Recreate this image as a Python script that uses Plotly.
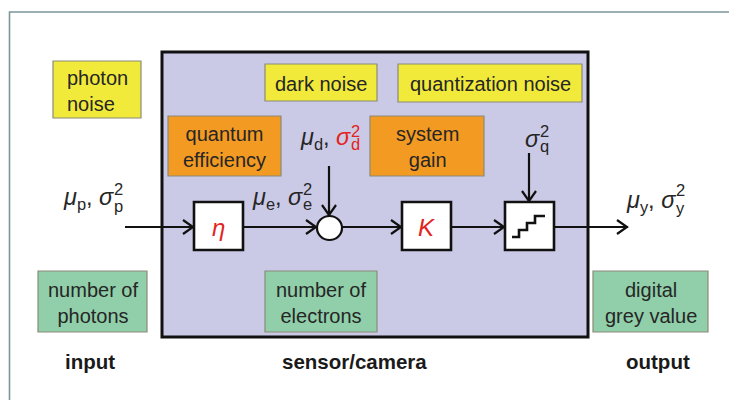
import plotly.graph_objects as go

# ---------------- data (texts) ----------------
box_texts = ["photon<br>noise", "dark noise", "quantization noise",
             "quantum<br>efficiency", "system<br>gain",
             "number of<br>photons", "number of<br>electrons", "digital<br>grey value"]
box_kinds = ["noise", "noise", "noise", "param", "param", "qty", "qty", "qty"]
box_align = ["left", "center", "center", "center", "center", "center", "center", "center"]
stage_labels = ["input", "sensor/camera", "output"]
block_symbols = ["η", "K", ""]
math_main = ["<i>μ</i><sub>p</sub>, <i>σ</i>", "<i>μ</i><sub>e</sub>, <i>σ</i>",
             "<i>μ</i><sub>d</sub>, <span style='color:#e3231d'><i>σ</i></span>",
             "<i>σ</i>", "<i>μ</i><sub>y</sub>, <i>σ</i>"]
math_sup = ["2", "2", "2", "2", "2"]
math_sub = ["p", "e", "d", "q", "y"]
math_red = [False, False, True, False, False]

# ---------------- layout geometry (pixels) ----------------
box_rects = [(53, 61, 141, 118), (265, 64, 377, 101), (398, 64, 582, 102),
             (168, 116, 281, 176), (370, 116, 484, 176),
             (38, 271, 147, 332), (265, 271, 377, 332), (593, 271, 708, 332)]
stage_x = [90, 354, 658]
stage_y = 361
block_rects = [(194, 202, 243, 250), (402, 202, 451, 250), (505, 202, 554, 250)]
circle = (317, 216, 342, 240)
main_y = 227
arrows = [((125, main_y), (194, main_y)), ((243, main_y), (317, main_y)),
          ((342, main_y), (402, main_y)), ((451, main_y), (505, main_y)),
          ((554, main_y), (628, main_y)),
          ((329, 166), (329, 216)), ((529, 153), (529, 202))]
math_stack_x = [113, 302, 350, 539, 675]
math_main_y = [198, 198, 138, 139, 201]
math_sup_y = [189, 189, 131, 131, 190]
math_sub_y = [206, 204, 144, 146, 208]
stair_x = [512, 519, 519, 527, 527, 535, 535, 545]
stair_y = [237, 237, 230, 230, 223, 223, 216, 216]

FILL = {"noise": "#f1ea3a", "param": "#f39a22", "qty": "#90cfa9"}
RED = "#e3231d"
TXT = "#262626"
FONT = "Liberation Sans, Arial, sans-serif"
OFF = 8  # page body margin

shapes = []
ann = []

# outer frame (left & top edge)
shapes.append(dict(type="path", path="M 9.5,420 L 9.5,12 L 760,12",
                   line=dict(color="#7d9698", width=1.6), layer="below"))
# sensor box
shapes.append(dict(type="rect", x0=162, y0=52, x1=588, y1=337,
                   fillcolor="#cbcae6", line=dict(color="#111", width=3), layer="below"))

for (x0, y0, x1, y1), txt, kind, al in zip(box_rects, box_texts, box_kinds, box_align):
    shapes.append(dict(type="rect", x0=x0, y0=y0, x1=x1, y1=y1, fillcolor=FILL[kind],
                       line=dict(color="#8a8a7a", width=1.2)))
    ann.append(dict(x=(x0 + x1) / 2, y=(y0 + y1) / 2 + 1, text=txt, showarrow=False,
                    align=al, xanchor="center", yanchor="middle",
                    font=dict(family=FONT, size=20, color=TXT)))

for x, t in zip(stage_x, stage_labels):
    ann.append(dict(x=x, y=stage_y, text="<b>" + t + "</b>", showarrow=False,
                    xanchor="center", yanchor="middle",
                    font=dict(family=FONT, size=20.5, color="#1a1a1a")))

# arrows
for (xa, ya), (xb, yb) in arrows:
    shapes.append(dict(type="line", x0=xa, y0=ya, x1=xb, y1=yb,
                       line=dict(color="#111", width=2.2)))
    if ya == yb:
        p = f"M {xb-11},{yb-7} L {xb-1},{yb} L {xb-11},{yb+7}"
    else:
        p = f"M {xb-7},{yb-11} L {xb},{yb-1} L {xb+7},{yb-11}"
    shapes.append(dict(type="path", path=p, line=dict(color="#111", width=2.2)))

# processing blocks
for (x0, y0, x1, y1), s in zip(block_rects, block_symbols):
    shapes.append(dict(type="rect", x0=x0, y0=y0, x1=x1, y1=y1, fillcolor="white",
                       line=dict(color="#111", width=2.6)))
    if s:
        ann.append(dict(x=(x0 + x1) / 2, y=(y0 + y1) / 2 + 1, text="<i>" + s + "</i>",
                        showarrow=False, xanchor="center", yanchor="middle",
                        font=dict(family=FONT, size=24, color=RED)))

# summing node
shapes.append(dict(type="circle", x0=circle[0], y0=circle[1], x1=circle[2], y1=circle[3],
                   fillcolor="white", line=dict(color="#111", width=2.2)))

# staircase
path = "M " + " L ".join(f"{x},{y}" for x, y in zip(stair_x, stair_y))
shapes.append(dict(type="path", path=path, line=dict(color="#111", width=2.6)))

# math labels
for m, sp, sb, red, sx, my, spy, sby in zip(math_main, math_sup, math_sub, math_red,
                                           math_stack_x, math_main_y, math_sup_y, math_sub_y):
    c = RED if red else TXT
    ann.append(dict(x=sx + 3, y=my, text=m, showarrow=False, xanchor="right", yanchor="middle",
                    font=dict(family=FONT, size=23.5, color=TXT)))
    ann.append(dict(x=sx - 1, y=spy, text=sp, showarrow=False, xanchor="left", yanchor="middle",
                    font=dict(family=FONT, size=16.5, color=c)))
    ann.append(dict(x=sx - 1, y=sby, text=sb, showarrow=False, xanchor="left", yanchor="middle",
                    font=dict(family=FONT, size=16.5, color=c)))

fig = go.Figure()
fig.update_layout(width=737, height=400, margin=dict(l=0, r=0, t=0, b=0),
                  paper_bgcolor="white", plot_bgcolor="white",
                  xaxis=dict(range=[OFF, 737 + OFF], visible=False, fixedrange=True),
                  yaxis=dict(range=[400 + OFF, OFF], visible=False, fixedrange=True),
                  shapes=shapes, annotations=ann, showlegend=False)
fig.write_html("out.html", config={"displayModeBar": False})
